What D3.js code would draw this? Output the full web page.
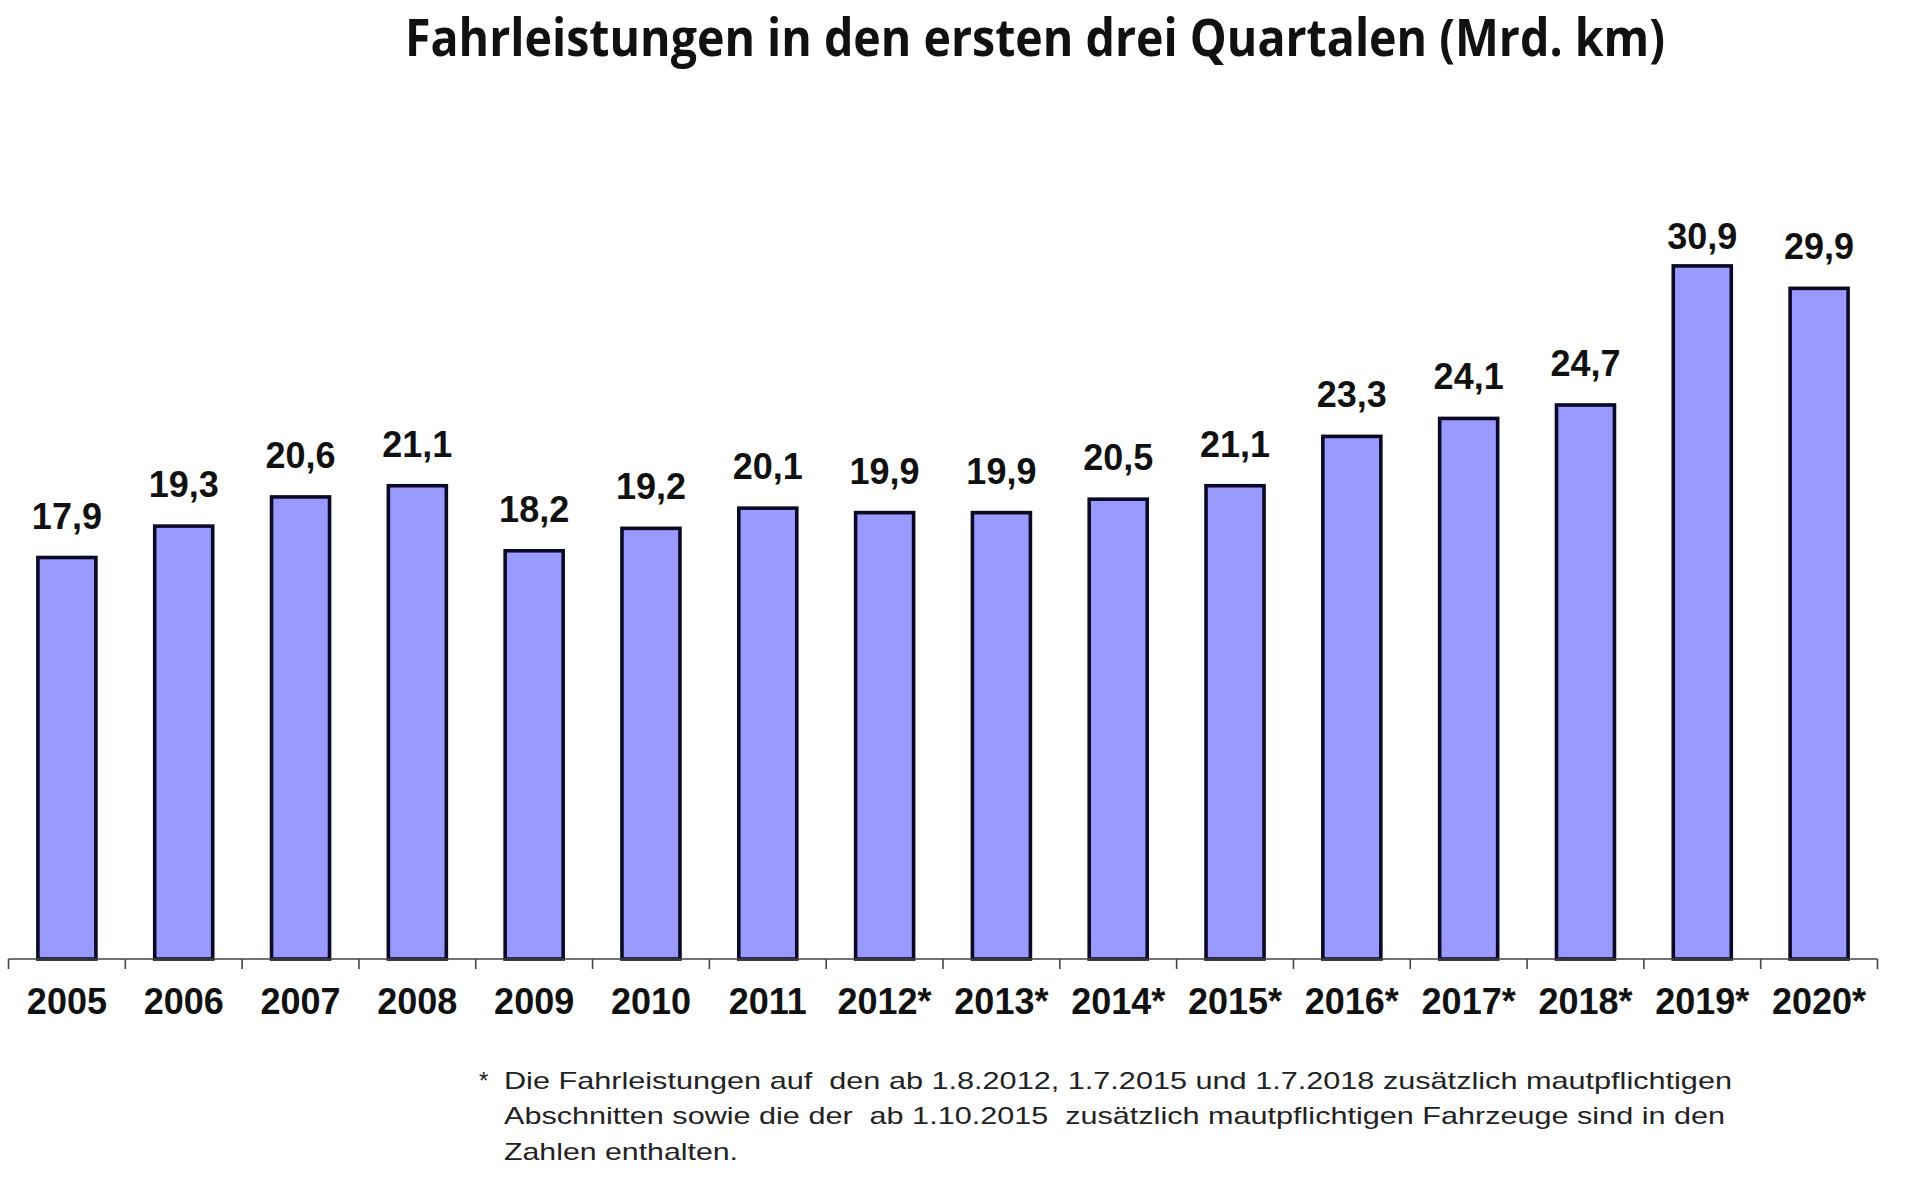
<!DOCTYPE html>
<html>
<head>
<meta charset="utf-8">
<script src="https://cdn.jsdelivr.net/npm/d3@7"></script>
<style>
  html, body { margin: 0; padding: 0; background: #ffffff; }
  svg { display: block; }
</style>
</head>
<body>
<svg id="chart" width="1906" height="1200"></svg>
<script>
// ---- data ----
const categories = ["2005","2006","2007","2008","2009","2010","2011","2012*","2013*","2014*","2015*","2016*","2017*","2018*","2019*","2020*"];
const values = [17.9, 19.3, 20.6, 21.1, 18.2, 19.2, 20.1, 19.9, 19.9, 20.5, 21.1, 23.3, 24.1, 24.7, 30.9, 29.9];
const valueLabels = ["17,9","19,3","20,6","21,1","18,2","19,2","20,1","19,9","19,9","20,5","21,1","23,3","24,1","24,7","30,9","29,9"];
const titleText = "Fahrleistungen in den ersten drei Quartalen (Mrd. km)";
const footnoteMark = "*";
const footnoteLines = [
  "Die Fahrleistungen auf  den ab 1.8.2012, 1.7.2015 und 1.7.2018 zusätzlich mautpflichtigen",
  "Abschnitten sowie die der  ab 1.10.2015  zusätzlich mautpflichtigen Fahrzeuge sind in den",
  "Zahlen enthalten."
];

// ---- layout ----
const svg = d3.select("#chart");
const axisY = 959;
const x = d3.scaleBand().domain(categories).range([8.5, 1877.5]).paddingInner(0).paddingOuter(0);
const y = d3.scaleLinear().domain([0, 35]).range([axisY, axisY - 35 * 22.43]);
const barW = 58;

// title
svg.append("text")
  .attr("x", 405).attr("y", 56)
  .attr("textLength", 1260).attr("lengthAdjust", "spacingAndGlyphs")
  .style("font-family", "'Open Sans', 'Noto Sans', sans-serif")
  .style("font-weight", 700).style("font-size", "52px").attr("fill", "#111")
  .text(titleText);

// bars
svg.append("g").selectAll("rect").data(values).join("rect")
  .attr("x", (d, i) => x(categories[i]) + x.bandwidth() / 2 - barW / 2)
  .attr("y", d => y(d))
  .attr("width", barW)
  .attr("height", d => y(0) - y(d))
  .attr("fill", "#9999ff")
  .attr("stroke", "#0a0a24")
  .attr("stroke-width", 3.6);

// value labels
svg.append("g").selectAll("text").data(values).join("text")
  .attr("x", (d, i) => x(categories[i]) + x.bandwidth() / 2)
  .attr("y", d => Math.max(y(d) - 29, 249))
  .attr("text-anchor", "middle")
  .style("font-family", "'Liberation Sans', Arial, sans-serif")
  .style("font-weight", 700).style("font-size", "36px").attr("fill", "#111")
  .text((d, i) => valueLabels[i]);

// x axis
const axis = d3.axisBottom(x).tickSize(0).tickPadding(0).tickFormat(() => "");
const gAxis = svg.append("g").attr("transform", `translate(0,${axisY})`).call(axis);
gAxis.select(".domain").attr("stroke", "#444").attr("stroke-width", 1.6).attr("d", `M${x.range()[0]},0H${x.range()[1]}`);
gAxis.selectAll(".tick").remove();
// band boundary ticks
const boundaries = categories.map(c => x(c)).concat([x.range()[1]]);
gAxis.selectAll("line.bt").data(boundaries).join("line")
  .attr("class", "bt")
  .attr("x1", d => d).attr("x2", d => d)
  .attr("y1", 0).attr("y2", 10)
  .attr("stroke", "#444").attr("stroke-width", 1.6);
// category labels
svg.append("g").selectAll("text").data(categories).join("text")
  .attr("x", d => x(d) + x.bandwidth() / 2)
  .attr("y", 1014)
  .attr("text-anchor", "middle")
  .style("font-family", "'Liberation Sans', Arial, sans-serif")
  .style("font-weight", 700).style("font-size", "36px").attr("fill", "#111")
  .text(d => d);

// footnote
const fnFont = "'Liberation Sans', Arial, sans-serif";
svg.append("text")
  .attr("x", 479).attr("y", 1089)
  .style("font-family", fnFont).style("font-size", "24px").attr("fill", "#222")
  .text(footnoteMark);
const fnWidths = [1228, 1221, 234];
svg.append("g").selectAll("text").data(footnoteLines).join("text")
  .attr("x", 504)
  .attr("y", (d, i) => 1089 + i * 35.3)
  .attr("textLength", (d, i) => fnWidths[i])
  .attr("lengthAdjust", "spacingAndGlyphs")
  .style("font-family", fnFont).style("font-size", "24px").attr("fill", "#222")
  .style("white-space", "pre")
  .text(d => d);
</script>
</body>
</html>
